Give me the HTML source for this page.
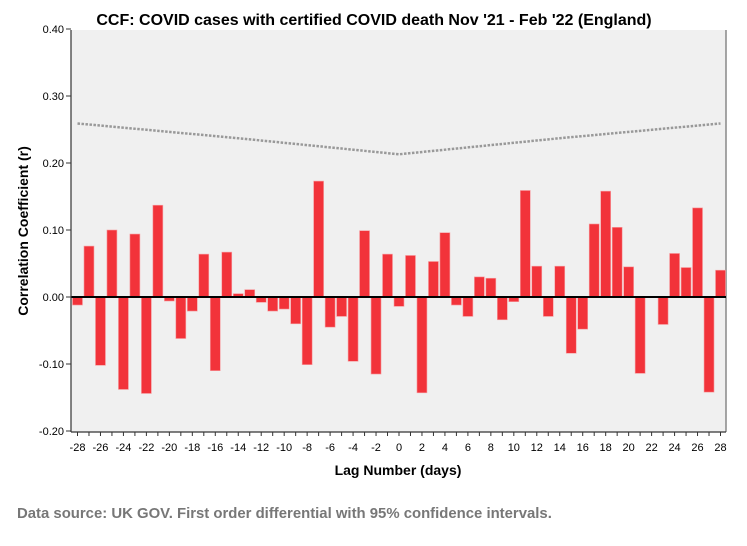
<!DOCTYPE html>
<html><head><meta charset="utf-8"><style>
body{margin:0;background:#fff;font-family:"Liberation Sans",Arial,sans-serif}
svg text{font-family:"Liberation Sans",Arial,sans-serif}
</style></head><body>
<svg id="chart" width="747" height="541" xmlns="http://www.w3.org/2000/svg">
<rect x="0" y="0" width="747" height="541" fill="#fff"/>
<text x="374" y="25" text-anchor="middle" font-size="16" font-weight="bold" fill="#000">CCF: COVID cases with certified COVID death Nov '21 - Feb '22 (England)</text>
<rect x="71" y="30" width="655" height="402" fill="#f0f0f0"/>
<line x1="726" x2="726" y1="30" y2="432" stroke="#888" stroke-width="1.5"/>
<g id="bars"></g>
<g id="yaxis"></g>
<g id="xaxis"></g>
<text x="398" y="475" text-anchor="middle" font-size="14" font-weight="bold">Lag Number (days)</text>
<text transform="translate(28,231) rotate(-90)" text-anchor="middle" font-size="14" font-weight="bold">Correlation Coefficient (r)</text>
<text x="17" y="518" font-size="14.9" font-weight="bold" fill="#777">Data source: UK GOV. First order differential with 95% confidence intervals.</text>
</svg>
<script>
const lags = [];
for (let l = -28; l <= 28; l++) lags.push(l);
const values = [-0.012,0.076,-0.102,0.100,-0.138,0.094,-0.144,0.137,-0.006,-0.062,-0.021,0.064,-0.110,0.067,0.005,0.011,-0.008,-0.021,-0.018,-0.040,-0.101,0.173,-0.045,-0.029,-0.096,0.099,-0.115,0.064,-0.014,0.062,-0.143,0.053,0.096,-0.012,-0.029,0.030,0.028,-0.034,-0.007,0.159,0.046,-0.029,0.046,-0.084,-0.048,0.109,0.158,0.104,0.045,-0.114,0.001,-0.041,0.065,0.044,0.133,-0.142,0.040];
const ciLags = [-28,-21,-14,-7,0,7,14,21,28];
const ciValues = [0.259,0.248,0.237,0.225,0.213,0.225,0.237,0.248,0.259];
const yTicks = [0.40,0.30,0.20,0.10,0.00,-0.10,-0.20];
const xTickLags = [-28,-26,-24,-22,-20,-18,-16,-14,-12,-10,-8,-6,-4,-2,0,2,4,6,8,10,12,14,16,18,20,22,24,26,28];

const NS = "http://www.w3.org/2000/svg";
const y = v => 297 - (v) * 670;
const x = l => 77.5 + (l + 28) * (643 / 56);
function mk(tag, attrs, parent){const e=document.createElementNS(NS,tag);for(const k in attrs)e.setAttribute(k,attrs[k]);parent.appendChild(e);return e;}

const bars = document.getElementById('bars');
values.forEach((v,i)=>{
  const y0 = y(0), y1 = y(v);
  const r = mk('rect',{x:x(lags[i])-5,y:Math.min(y0,y1),width:10,height:Math.max(Math.abs(y1-y0),1),fill:'#f2333a',stroke:'#f7a0a3','stroke-width':0.6},bars);
  
  
});
const zl = mk('line',{x1:71,x2:726,y1:y(0),y2:y(0),stroke:'#000','stroke-width':2},bars);


const ci = mk('polyline',{points:ciLags.map((l,i)=>x(l)+','+y(ciValues[i])).join(' '),fill:'none',stroke:'#999','stroke-width':2.5,'stroke-dasharray':'2.5,1.5'},bars);



const ya = document.getElementById('yaxis');
const yl = mk('line',{x1:71,x2:71,y1:30,y2:432,stroke:'#333','stroke-width':1.2},ya);


yTicks.forEach(t=>{
  mk('line',{x1:66,x2:71,y1:y(t),y2:y(t),stroke:'#333'},ya);
  const tx = mk('text',{x:64,y:y(t)+4,'text-anchor':'end','font-size':11},ya);
  tx.textContent = t.toFixed(2);
  
  
});
const xa = document.getElementById('xaxis');
const xl = mk('line',{x1:71,x2:726,y1:432,y2:432,stroke:'#333','stroke-width':1.2},xa);


lags.forEach(l=>mk('line',{x1:x(l),x2:x(l),y1:432,y2:436,stroke:'#333'},xa));
xTickLags.forEach(l=>{
  const tx = mk('text',{x:x(l),y:451,'text-anchor':'middle','font-size':11},xa);
  tx.textContent = l;
  
  
});
</script>
</body></html>
